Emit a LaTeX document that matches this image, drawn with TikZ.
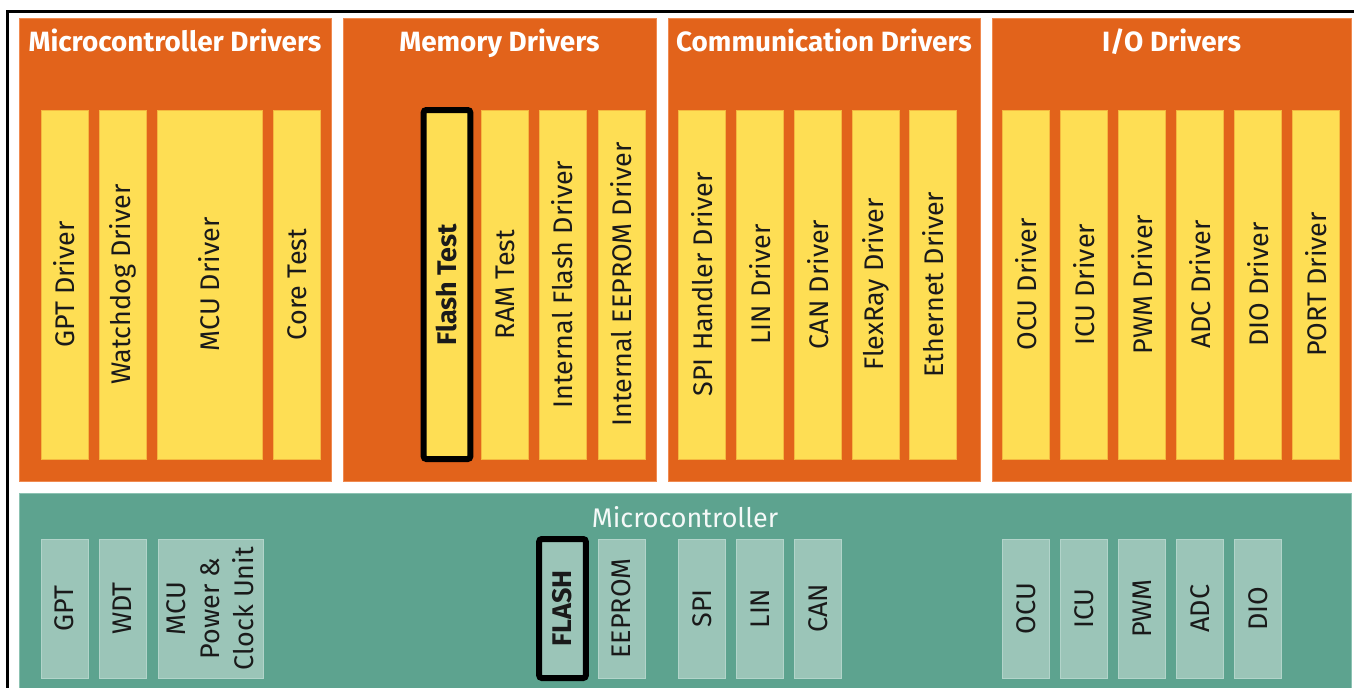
\documentclass[tikz,border=0pt]{standalone}
\usepackage{fontspec}
\setmainfont{Fira Sans}
\definecolor{drvorange}{HTML}{E2631B}
\definecolor{drvedge}{HTML}{F08A50}
\definecolor{drvyellow}{HTML}{FEDE54}
\definecolor{drvyedge}{HTML}{F5B840}
\definecolor{mcuteal}{HTML}{5DA38F}
\definecolor{mcuedge}{HTML}{8CC2B2}
\definecolor{periph}{HTML}{9BC5B8}
\definecolor{periphedge}{HTML}{B2D4CA}
\definecolor{labeltext}{HTML}{1A1A1A}
\tikzset{
  px/.style={x=0.75pt,y=-0.75pt},
  txt/.style={font=\fontsize{20.2pt}{25.5pt}\selectfont},
  panel/.style={fill=drvorange,draw=drvedge,line width=0.6pt},
  header/.style={font=\fontsize{20.9pt}{25pt}\selectfont\bfseries,text=white,anchor=base},
  drvbox/.style={txt,fill=drvyellow,draw=drvyedge,line width=0.5pt,rotate=90,
    minimum width=261.75pt,inner sep=0pt,text=labeltext},
  hwbox/.style={txt,fill=periph,draw=periphedge,line width=0.5pt,rotate=90,
    minimum width=104.25pt,inner sep=0pt,text=labeltext,align=center},
  narrow/.style={minimum height=35pt},
  wide/.style={minimum height=78.75pt},
  marked/.style={draw=black,line width=4.5pt,rounded corners=2pt},
}
\begin{document}
\begin{tikzpicture}[px]
\useasboundingbox (0,0) rectangle (1354,687);
% outer frame (runs past the right and bottom edges)
\draw[line width=2.25pt] (7,11) rectangle (1400,740);

% driver groups
\path[panel] (19,18) rectangle (331,481);
\path[panel] (343,18) rectangle (656,481);
\path[panel] (668,18) rectangle (980,481);
\path[panel] (992,18) rectangle (1351,481);
\node[header] (hmcu) at (175,51) {Microcontroller Drivers};
\node[header] (hmem) at (499.5,51) {Memory Drivers};
\node[header] (hcom) at (824,51) {Communication Drivers};
\node[header] (hio)  at (1171.5,51) {I/O Drivers};

% microcontroller drivers
\node[drvbox,narrow] (gptdrv) at (64.5,284.5) {GPT Driver};
\node[drvbox,narrow] (wdgdrv) at (122.5,284.5) {Watchdog Driver};
\node[drvbox,wide]   (mcudrv) at (209.5,284.5) {MCU Driver};
\node[drvbox,narrow] (coretst) at (297,284.5) {Core Test};
% memory drivers
\node[drvbox,narrow,marked] (flstst) at (447,284.5) {\bfseries Flash Test};
\node[drvbox,narrow] (ramtst) at (505,284.5) {RAM Test};
\node[drvbox,narrow] (fls) at (562.5,284.5) {Internal Flash Driver};
\node[drvbox,narrow] (eep) at (621.5,284.5) {Internal EEPROM Driver};
% communication drivers
\node[drvbox,narrow] (spidrv) at (702,284.5) {SPI Handler Driver};
\node[drvbox,narrow] (lindrv) at (760,284.5) {LIN Driver};
\node[drvbox,narrow] (candrv) at (818,284.5) {CAN Driver};
\node[drvbox,narrow] (frdrv) at (875.5,284.5) {FlexRay Driver};
\node[drvbox,narrow] (ethdrv) at (933,284.5) {Ethernet Driver};
% I/O drivers
\node[drvbox,narrow] (ocudrv) at (1026,284.5) {OCU Driver};
\node[drvbox,narrow] (icudrv) at (1084,284.5) {ICU Driver};
\node[drvbox,narrow] (pwmdrv) at (1142,284.5) {PWM Driver};
\node[drvbox,narrow] (adcdrv) at (1200,284.5) {ADC Driver};
\node[drvbox,narrow] (diodrv) at (1258,284.5) {DIO Driver};
\node[drvbox,narrow] (portdrv) at (1316,284.5) {PORT Driver};

% microcontroller hardware
\path[fill=mcuteal,draw=mcuedge,line width=0.6pt] (19,493) rectangle (1351,700);
\node[txt,text=white!94!mcuteal,anchor=base] (mcu) at (685,527) {Microcontroller};
\node[hwbox,narrow] (gpt) at (64.5,608.5) {GPT};
\node[hwbox,narrow] (wdt) at (122.5,608.5) {WDT};
\node[hwbox,wide] (pcu) at (210.5,608.5) {MCU\\Power \&\\Clock Unit};
\node[hwbox,narrow,marked] (flash) at (562.5,608.5) {\bfseries FLASH};
\node[hwbox,narrow] (eeprom) at (621.5,608.5) {EEPROM};
\node[hwbox,narrow] (spi) at (702,608.5) {SPI};
\node[hwbox,narrow] (lin) at (760,608.5) {LIN};
\node[hwbox,narrow] (can) at (818,608.5) {CAN};
\node[hwbox,narrow] (ocu) at (1026,608.5) {OCU};
\node[hwbox,narrow] (icu) at (1084,608.5) {ICU};
\node[hwbox,narrow] (pwm) at (1142,608.5) {PWM};
\node[hwbox,narrow] (adc) at (1200,608.5) {ADC};
\node[hwbox,narrow] (dio) at (1258,608.5) {DIO};
\end{tikzpicture}
\end{document}
